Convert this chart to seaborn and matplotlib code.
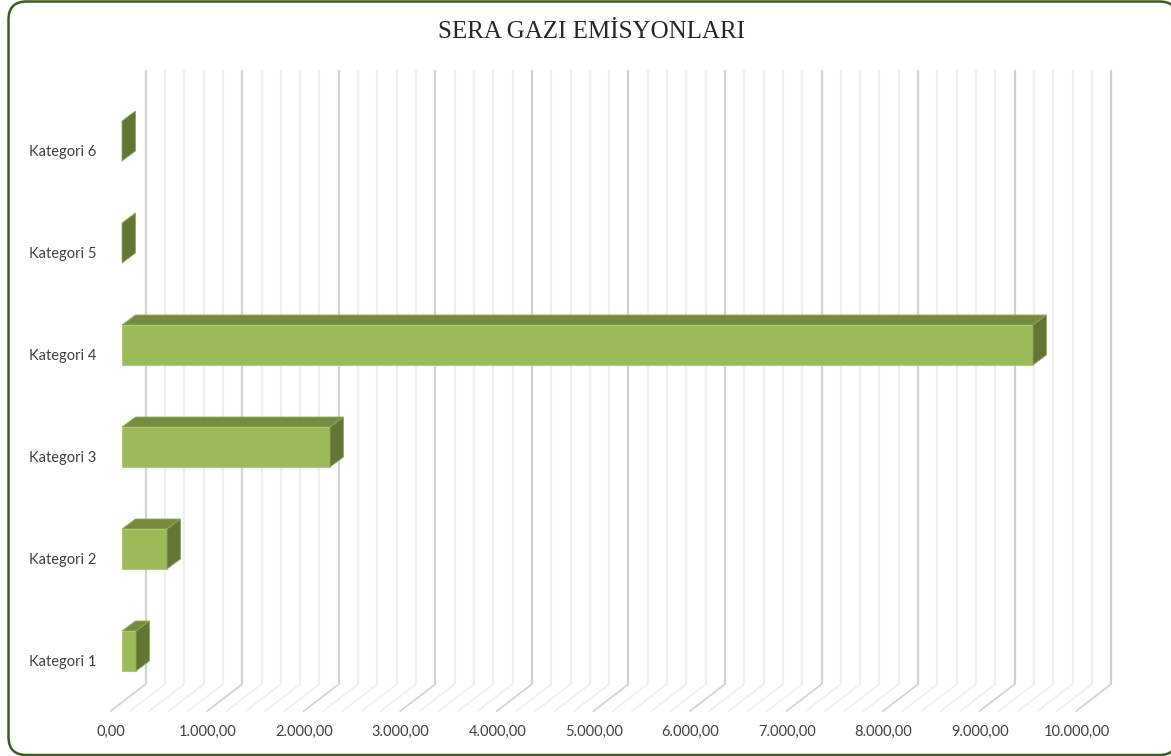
import matplotlib
matplotlib.use('Agg')
import matplotlib.pyplot as plt
import seaborn as sns
import pandas as pd
from matplotlib.patches import BoxStyle, Polygon
from matplotlib.transforms import Affine2D, ScaledTranslation

# veriler (yukaridan asagiya)
kategoriler = ['Kategori 6', 'Kategori 5', 'Kategori 4', 'Kategori 3', 'Kategori 2', 'Kategori 1']
emisyon = [0, 0, 9435, 2154, 466, 145]
ana_cizgiler = [0, 1000, 2000, 3000, 4000, 5000, 6000, 7000, 8000, 9000, 10000]
ara_cizgiler = [v * 200 for v in range(51) if v % 5 != 0]
baslik = 'SERA GAZI EMİSYONLARI'

W, H = 1171, 756
df = pd.DataFrame({'kategori': kategoriler, 'emisyon': emisyon})

sns.set_style('white')
plt.rcParams['font.family'] = ['Lato', 'DejaVu Sans']

fig = plt.figure(figsize=(W / 100, H / 100), dpi=100, facecolor='white')
# eksen: 0 -> x=122px, 10000 -> x=1087.5px, kategoriler 102px arayla
ax = fig.add_axes([122 / W, 1 - 702 / H, 965.5 / W, 612 / H])
ax.patch.set_alpha(0)

sns.barplot(data=df, y='kategori', x='emisyon', order=kategoriler, orient='h',
            color='#9BBB59', saturation=1, width=0.392, ax=ax,
            edgecolor='#AECB6E', linewidth=0.8, zorder=5)
ax.set_xlim(0, 10000)
ax.set_ylim(5.5, -0.5)
ax.set_xlabel('')
ax.set_ylabel('')
sns.despine(ax=ax, left=True, bottom=True)


def kaydir(dx, dy):
    return ax.transData + ScaledTranslation(dx / 100, -dy / 100, fig.dpi_scale_trans)


# 3B izgara: arka duvar + zemin
for degerler, renk, z in [(ara_cizgiler, '#EFEFEF', 1), (ana_cizgiler, '#D2D2D2', 2)]:
    for v in degerler:
        ax.plot([v, v], [-0.696, 5.325], color=renk, lw=1.6, transform=kaydir(23.7, 0),
                clip_on=False, zorder=z, solid_capstyle='butt')
        p0 = kaydir(23.7, 0).transform((v, 5.325))
        p1 = kaydir(-11.5, 0).transform((v, 5.59))
        ax.plot([p0[0], p1[0]], [p0[1], p1[1]], color=renk, lw=1.2, transform=None,
                clip_on=False, zorder=z)

# cubuklarin ust ve yan yuzleri
derin_x, derin_y = 13.5, 10
for bar in list(ax.patches):
    g = bar.get_width()
    y0, y1 = bar.get_y(), bar.get_y() + bar.get_height()  # y0 ust, y1 alt
    (xa, yu), (xb, ya) = ax.transData.transform([(0, y0), (g, y1)])
    if g > 0:
        ust = [(xa, yu), (xb, yu), (xb + derin_x, yu + derin_y), (xa + derin_x, yu + derin_y)]
        ax.add_patch(Polygon(ust, closed=True, transform=None, facecolor='#768B42',
                             edgecolor='#8FAA58', lw=0.6, zorder=4, clip_on=False))
    yan = [(xb, yu), (xb + derin_x, yu + derin_y), (xb + derin_x, ya + derin_y), (xb, ya)]
    ax.add_patch(Polygon(yan, closed=True, transform=None, facecolor='#637634',
                         edgecolor='#8FAA58', lw=0.6, zorder=6, clip_on=False))

# etiketler
ax.set_yticks(range(len(kategoriler)))
ax.set_yticklabels(kategoriler)
ax.set_xticks(ana_cizgiler)
ax.set_xticklabels([f'{v:,.2f}'.replace(',', 'X').replace('.', ',').replace('X', '.') for v in ana_cizgiler])
ax.tick_params(axis='both', length=0, labelsize=10.5, labelcolor='#404040')
ax.tick_params(axis='y', pad=18.7)
ax.tick_params(axis='x', pad=16.4)
for et in ax.get_yticklabels():
    et.set_transform(et.get_transform() + ScaledTranslation(0, -9.5 / 100, fig.dpi_scale_trans))
for et in ax.get_xticklabels():
    et.set_transform(et.get_transform() + ScaledTranslation(-11 / 100, 0, fig.dpi_scale_trans))

fig.text(591 / W, 1 - 32 / H, baslik, family='Liberation Serif', fontsize=18, color='#262626',
         ha='center', va='center')

# dis cerceve (sag kenar resmin disinda kaliyor), egriler kirik cizgiye cevriliyor
kutu = BoxStyle.Round(pad=0, rounding_size=18)(8.5, 1.5, 1169, 753.5, 1)
kose_noktalari = kutu.to_polygons(closed_only=False)[0]
fig.add_artist(Polygon(kose_noktalari, closed=True,
                       transform=Affine2D().scale(1, -1).translate(0, H),
                       facecolor='none', edgecolor='#3F5A1E', lw=1.8, clip_on=False))

fig.savefig('out.png', dpi=100)
